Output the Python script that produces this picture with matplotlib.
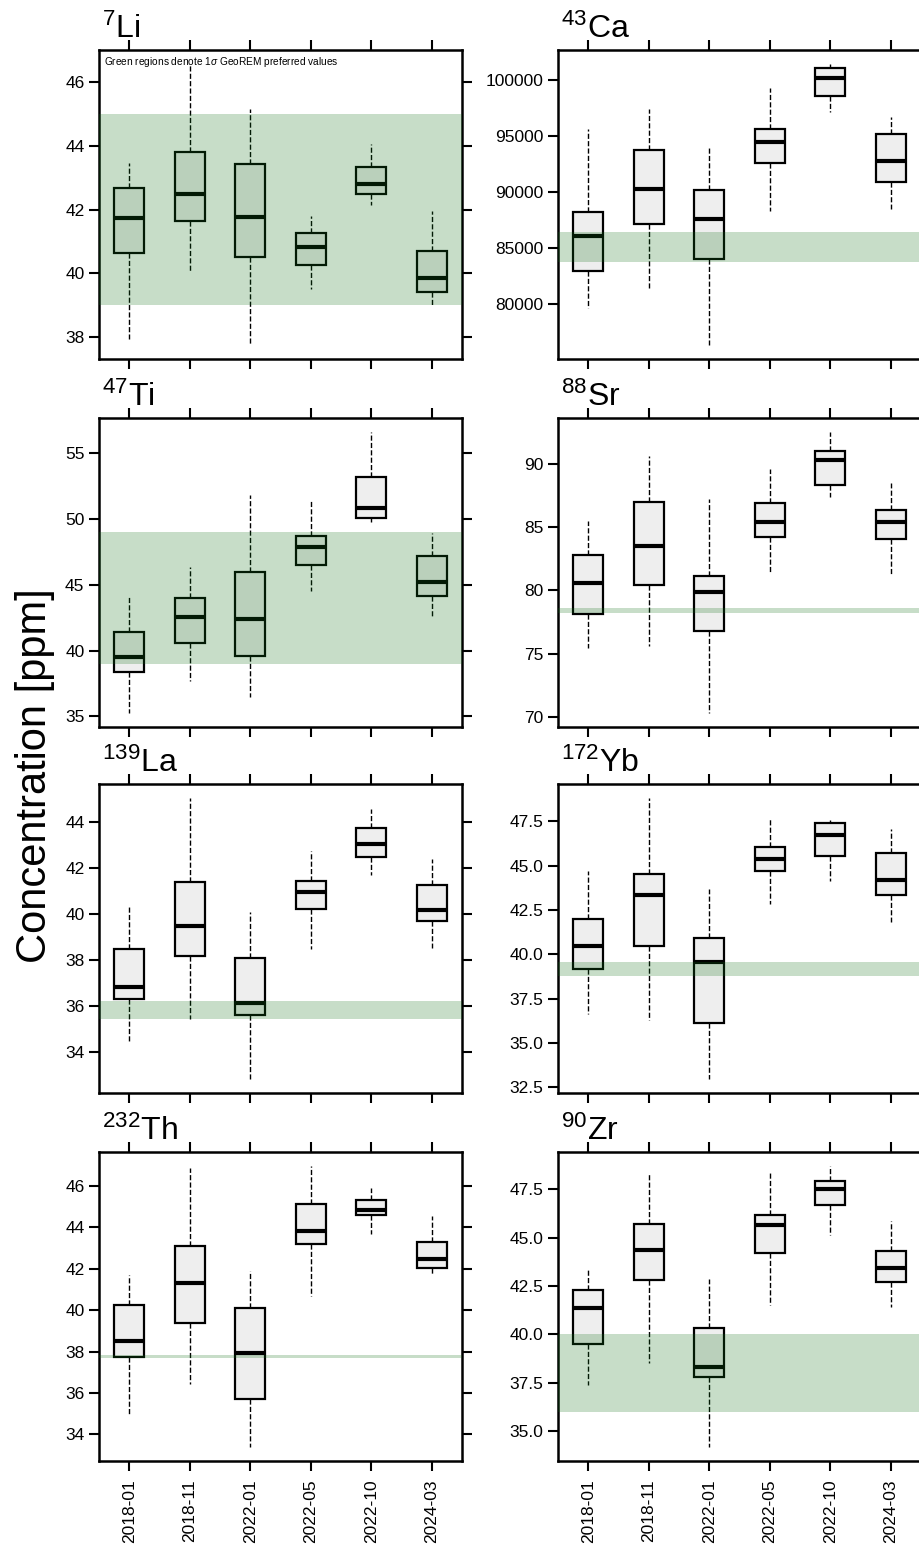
import matplotlib.pyplot as plt
from matplotlib.ticker import MultipleLocator

plt.rcParams['font.family'] = ['Liberation Sans', 'DejaVu Sans']
plt.rcParams['mathtext.fontset'] = 'custom'
plt.rcParams['mathtext.rm'] = 'Liberation Sans'
plt.rcParams['mathtext.it'] = 'Liberation Sans:italic'

sessions = ['2018-01', '2018-11', '2022-01', '2022-05', '2022-10', '2024-03']

# per session: (whisker low, q1, median, q3, whisker high)
li = [(37.93, 40.62, 41.72, 42.67, 43.48), (40.03, 41.63, 42.49, 43.82, 46.58),
      (37.74, 40.52, 41.78, 43.42, 45.18), (39.49, 40.25, 40.83, 41.25, 41.79),
      (42.15, 42.48, 42.79, 43.33, 44.06), (39.01, 39.41, 39.84, 40.69, 41.94)]
ca = [(79592, 82938, 86027, 88225, 95612), (81426, 87095, 90237, 93681, 97392),
      (76326, 83980, 87540, 90183, 94126), (88252, 92551, 94420, 95577, 99226),
      (97090, 98549, 100151, 101006, 101397), (88430, 90860, 92729, 95194, 96707)]
ti = [(35.26, 38.36, 39.53, 41.43, 44.08), (37.67, 40.59, 42.55, 44.02, 46.36),
      (36.45, 39.58, 42.42, 45.98, 51.85), (44.53, 46.49, 47.84, 48.72, 51.39),
      (49.74, 50.10, 50.83, 53.15, 56.60), (42.63, 44.13, 45.24, 47.20, 48.90)]
sr = [(75.47, 78.16, 80.57, 82.79, 85.46), (75.60, 80.44, 83.47, 86.96, 90.58),
      (70.32, 76.79, 79.91, 81.15, 87.23), (81.47, 84.19, 85.43, 86.88, 89.60),
      (87.41, 88.31, 90.32, 91.03, 92.51), (81.33, 84.08, 85.43, 86.38, 88.47)]
la = [(34.48, 36.30, 36.80, 38.49, 40.39), (35.42, 38.17, 39.48, 41.42, 45.06),
      (32.81, 35.61, 36.14, 38.10, 40.07), (38.46, 40.22, 40.96, 41.46, 42.74),
      (41.70, 42.51, 43.07, 43.74, 44.59), (38.51, 39.71, 40.17, 41.25, 42.42)]
yb = [(36.65, 39.18, 40.50, 41.99, 44.71), (36.27, 40.50, 43.37, 44.52, 48.82),
      (32.97, 36.14, 39.58, 40.90, 43.67), (42.82, 44.71, 45.39, 46.07, 47.63),
      (44.16, 45.56, 46.71, 47.41, 47.58), (41.84, 43.33, 44.20, 45.73, 47.07)]
th = [(35.00, 37.74, 38.50, 40.26, 41.69), (36.45, 39.40, 41.34, 43.10, 46.89),
      (33.39, 35.69, 37.94, 40.13, 41.90), (40.68, 43.19, 43.81, 45.15, 46.97),
      (43.68, 44.60, 44.84, 45.32, 45.89), (41.77, 42.02, 42.48, 43.32, 44.55)]
zr = [(37.37, 39.48, 41.35, 42.31, 43.34), (38.53, 42.79, 44.35, 45.73, 48.28),
      (34.17, 37.79, 38.32, 40.33, 42.88), (41.53, 44.23, 45.68, 46.20, 48.37),
      (45.16, 46.70, 47.53, 47.92, 48.71), (41.44, 42.70, 43.43, 44.30, 45.86)]

titles = [r'$^{7}$Li', r'$^{43}$Ca', r'$^{47}$Ti', r'$^{88}$Sr',
          r'$^{139}$La', r'$^{172}$Yb', r'$^{232}$Th', r'$^{90}$Zr']
panels = [li, ca, ti, sr, la, yb, th, zr]
# GeoREM preferred values, 1 sigma range (low, high)
bands = [(39.0, 45.0), (83700, 86450), (39.0, 49.0), (78.2, 78.6),
         (35.42, 36.19), (38.8, 39.55), (37.71, 37.84), (36.0, 40.0)]
tick_steps = [2, 5000, 5, 5, 2, 2.5, 2, 2.5]

fig = plt.figure(figsize=(9.2, 15.51), dpi=100)

col_x = [99 / 920, 558 / 920]
ax_w = 363 / 920
row_y = [1 - 359 / 1551, 1 - 727 / 1551, 1 - 1093 / 1551, 1 - 1461 / 1551]
ax_h = 309 / 1551

for i, (title, data) in enumerate(zip(titles, panels)):
    row, col = divmod(i, 2)
    ax = fig.add_axes([col_x[col], row_y[row], ax_w, ax_h])

    stats = [dict(whislo=d[0], q1=d[1], med=d[2], q3=d[3], whishi=d[4], fliers=[])
             for d in data]
    ax.bxp(stats, positions=range(1, 7), widths=0.5, patch_artist=True,
           showfliers=False, showcaps=False,
           boxprops=dict(facecolor='#eeeeee', edgecolor='black', linewidth=1.6),
           medianprops=dict(color='black', linewidth=3, solid_capstyle='butt'),
           whiskerprops=dict(color='black', linestyle='--', linewidth=1))
    ax.axhspan(bands[i][0], bands[i][1], color='#117219', alpha=0.235, lw=0, zorder=3)

    ax.set_xlim(0.5, 6.5)
    ax.set_xticks(range(1, 7))
    ax.set_xticklabels(sessions, rotation=90)
    ax.yaxis.set_major_locator(MultipleLocator(tick_steps[i]))
    ax.tick_params(direction='out', length=7, width=1.5, top=True, right=True,
                   labelsize=12.5, labelbottom=(row == 3))
    ax.tick_params(axis='x', pad=6)
    for s in ax.spines.values():
        s.set_linewidth(1.8)
    ax.set_title(title, loc='left', fontsize=23, pad=9, x=0.008)

    if i == 0:
        ax.text(0.014, 0.962, r'Green regions denote 1$\sigma$ GeoREM preferred values',
                transform=ax.transAxes, fontsize=7.3, va='center', ha='left')

fig.text(0.038, 0.5, 'Concentration [ppm]', rotation=90, va='center', ha='center',
         fontsize=30)

fig.savefig('out.png', dpi=100)
